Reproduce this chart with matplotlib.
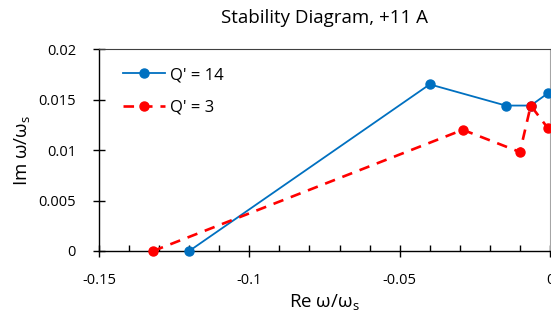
import matplotlib
matplotlib.use("Agg")
import matplotlib.pyplot as plt
from matplotlib.ticker import MultipleLocator

plt.rcParams['font.family'] = ['Open Sans', 'DejaVu Sans']

title = "Stability Diagram, +11 A"
q14_re = [-0.12, -0.040, -0.0147, -0.0064, -0.0008]
q14_im = [0.0, 0.0165, 0.0144, 0.0144, 0.0156]
q3_re = [-0.132, -0.029, -0.010, -0.0064, -0.0008]
q3_im = [0.0, 0.0120, 0.0098, 0.0144, 0.0122]
xticks = [-0.15, -0.1, -0.05, 0.0]
xticklabels = ["-0.15", "-0.1", "-0.05", "0"]
yticks = [0, 0.005, 0.01, 0.015, 0.02]
yticklabels = ["0", "0.005", "0.01", "0.015", "0.02"]

fig = plt.figure(figsize=(5.51, 3.25), dpi=100)
ax = fig.add_axes([99/551, 1-251/325, 451/551, 202/325])

ax.plot(q14_re, q14_im, color='#0070c0', lw=1.3, marker='o', ms=6.5,
        label="Q' = 14", clip_on=False, zorder=3)
ax.plot(q3_re, q3_im, color='#ff0000', lw=1.9, ls=(0, (4, 3)), marker='o', ms=6.5,
        label="Q' = 3", clip_on=False, zorder=4)

ax.set_xlim(-0.15, 0.0)
ax.set_ylim(0, 0.02)
ax.set_xticks(xticks)
ax.set_xticklabels(xticklabels)
ax.set_yticks(yticks)
ax.set_yticklabels(yticklabels)
ax.xaxis.set_minor_locator(MultipleLocator(0.01))
ax.tick_params(axis='both', which='major', direction='inout', length=9, width=1,
               labelsize=10.5, colors='black')
ax.tick_params(axis='x', which='minor', direction='in', length=4, width=1)
ax.tick_params(axis='x', which='major', pad=11)
ax.tick_params(axis='y', which='major', pad=12)

for s in ['left', 'bottom']:
    ax.spines[s].set_color('black')
    ax.spines[s].set_linewidth(1.0)
ax.spines['top'].set_color('#404040')
ax.spines['right'].set_color('#a6a6a6')

ax.set_title(title, fontsize=13.5, pad=19)
ax.set_xlabel('Re ω/ω$_{\\mathregular{s}}$', fontsize=13.5, labelpad=4)
ax.set_ylabel('Im ω/ω$_{\\mathregular{s}}$', fontsize=13.5, labelpad=4)

leg = ax.legend(loc='upper left', bbox_to_anchor=(0.02, 0.985), frameon=False,
                fontsize=12, handlelength=2.5, handletextpad=0.3, labelspacing=1.0)

fig.savefig('out.png', dpi=100)
